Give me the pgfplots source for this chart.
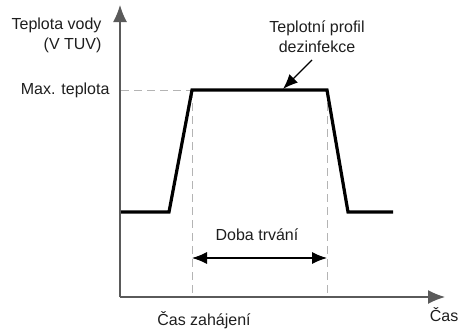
\documentclass[border=0pt]{standalone}
\usepackage{pgfplots}
\pgfplotsset{compat=1.18}
\usetikzlibrary{arrows.meta}
\usepackage{fontspec}
\setmainfont{Liberation Sans}
\definecolor{axisgray}{HTML}{5A5A5A}
\definecolor{dashgray}{HTML}{B4B4B4}
\definecolor{textgray}{HTML}{1E1E1E}

\begin{document}
\begin{tikzpicture}[font=\fontsize{16}{20}\selectfont, text=textgray]
\useasboundingbox (0,0) rectangle (460pt,330pt);
\begin{axis}[
    at={(120pt,33pt)}, anchor=south west,
    x=1pt, y=1pt,
    xmin=120, xmax=445, ymin=33, ymax=325,
    axis lines=left,
    axis line style={axisgray, line width=1.3pt},
    x axis line style={-{Latex[length=17pt,width=14pt]}},
    y axis line style={-{Latex[length=17pt,width=14pt]}},
    xtick=\empty, ytick=\empty,
    clip=false,
]
% guides
\addplot[dashgray, line width=1pt, dash pattern=on 8pt off 5pt] coordinates {(121,240) (192,240)};
\addplot[dashgray, line width=1pt, dash pattern=on 8pt off 5pt] coordinates {(192,240) (192,33)};
\addplot[dashgray, line width=1pt, dash pattern=on 8pt off 5pt] coordinates {(327,240) (327,33)};
% temperature profile
\addplot[black, line width=3.2pt, line join=miter] coordinates {
    (121,118) (169,118) (192,240) (327,240) (348,118) (393,118)};
% duration arrow
\addplot[black, line width=1.1pt, {Latex[length=15pt,width=12pt]}-{Latex[length=15pt,width=12pt]}]
    coordinates {(192,72) (327,72)};
% annotation arrow
\addplot[black, line width=1.3pt, -{Latex[length=15pt,width=12pt]}]
    coordinates {(312,270) (283,241)};
\node[anchor=east, align=right] at (axis cs:105,295) {Teplota vody\\(V TUV)};
\node[anchor=east] at (axis cs:113,240) {Max. teplota};
\node[align=center] at (axis cs:317,293) {Teplotní profil\\dezinfekce};
\node at (axis cs:257,95) {Doba trvání};
\node at (axis cs:204,10) {Čas zahájení};
\node[anchor=east, inner sep=1pt] at (axis cs:459.5,15) {Čas};
\end{axis}
\end{tikzpicture}
\end{document}
